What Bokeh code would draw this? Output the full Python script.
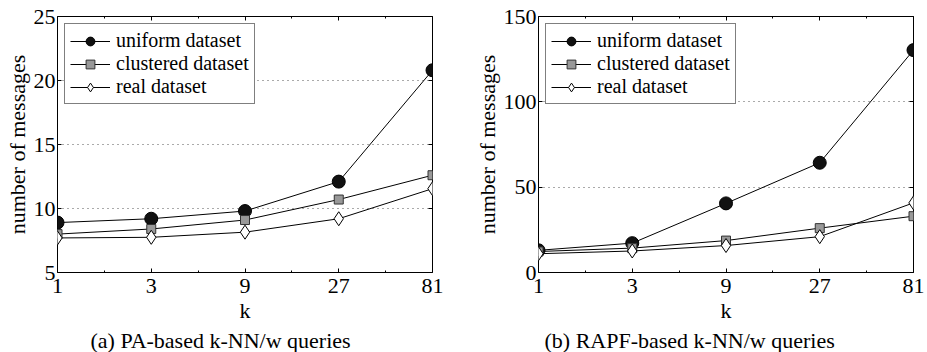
import numpy as np
from bokeh.plotting import figure
from bokeh.models import (Range1d, FixedTicker, LinearAxis, LogAxis, Legend,
                          LegendItem, Title)
from bokeh.layouts import row
from bokeh.embed import file_html
from bokeh.resources import INLINE

# ---------------- data ----------------
k_values = [1, 3, 9, 27, 81]
k_labels = ["1", "3", "9", "27", "81"]

pa_uniform = [8.9, 9.2, 9.8, 12.1, 20.8]
pa_clustered = [8.0, 8.4, 9.1, 10.7, 12.6]
pa_real = [7.7, 7.75, 8.15, 9.2, 11.55]

rapf_uniform = [13.0, 17.2, 40.5, 64.3, 130.3]
rapf_clustered = [12.3, 14.3, 18.7, 26.0, 33.0]
rapf_real = [11.0, 12.6, 15.8, 21.0, 40.8]

pa_yticks = [5, 10, 15, 20, 25]
rapf_yticks = [0, 50, 100, 150]

series_names = ["uniform dataset", "clustered dataset", "real dataset"]

FONT = "Liberation Serif"

minor_k = list(np.sqrt(np.array(k_values[:-1]) * np.array(k_values[1:])))


def style_axis(ax, minor=True):
    ax.major_tick_in = 4
    ax.major_tick_out = 0
    ax.major_tick_line_color = "black"
    if minor:
        ax.minor_tick_in = 2
        ax.minor_tick_out = 0
        ax.minor_tick_line_color = "black"
    else:
        ax.minor_tick_line_color = None
    ax.axis_line_color = None


def blank_labels(ax, ticks):
    ax.major_label_overrides = {t: "" for t in ticks}
    ax.major_label_text_color = None
    ax.major_label_standoff = 0


def make_panel(ys, yticks, caption, width, bl, br, cap_off):
    p = figure(width=width, height=352, x_axis_type="log",
               x_range=Range1d(k_values[0], k_values[-1]),
               y_range=Range1d(yticks[0], yticks[-1]),
               output_backend="svg", toolbar_location=None,
               min_border_left=bl, min_border_right=br,
               min_border_top=16, min_border_bottom=80,
               background_fill_color="white", border_fill_color="white")
    p.outline_line_color = "black"
    p.outline_line_width = 1

    xa = p.xaxis[0]
    xa.ticker = FixedTicker(ticks=k_values, minor_ticks=minor_k)
    xa.major_label_overrides = {k: lab for k, lab in zip(k_values, k_labels)}
    xa.axis_label = "k"
    style_axis(xa)
    xa.major_label_text_font = FONT
    xa.major_label_text_font_size = "22px"
    xa.major_label_text_color = "black"
    xa.major_label_standoff = 6
    xa.axis_label_text_font = FONT
    xa.axis_label_text_font_size = "22px"
    xa.axis_label_text_font_style = "normal"
    xa.axis_label_text_color = "black"
    xa.axis_label_standoff = 2

    ya = p.yaxis[0]
    ya.ticker = FixedTicker(ticks=yticks)
    ya.axis_label = "number of messages"
    style_axis(ya, minor=False)
    ya.major_label_text_font = FONT
    ya.major_label_text_font_size = "22px"
    ya.major_label_text_color = "black"
    ya.major_label_standoff = 2
    ya.axis_label_text_font = FONT
    ya.axis_label_text_font_size = "22px"
    ya.axis_label_text_font_style = "normal"
    ya.axis_label_text_color = "black"
    ya.axis_label_standoff = 1

    top = LogAxis(ticker=FixedTicker(ticks=k_values, minor_ticks=minor_k))
    style_axis(top)
    blank_labels(top, k_values)
    p.add_layout(top, "above")
    right = LinearAxis(ticker=FixedTicker(ticks=yticks))
    style_axis(right, minor=False)
    blank_labels(right, yticks)
    p.add_layout(right, "right")

    p.xgrid.visible = False
    p.ygrid.ticker = FixedTicker(ticks=yticks)
    p.ygrid.grid_line_color = "#555555"
    p.ygrid.grid_line_dash = "1 4"
    p.ygrid.grid_line_width = 1

    markers = [
        dict(marker="circle", size=13, fill_color="#111111", line_color="black"),
        dict(marker="square", size=9, fill_color="#999999", line_color="#333333"),
        dict(marker="diamond", size=14, fill_color="white", line_color="black"),
    ]
    items = []
    for name, vals, mk in zip(series_names, ys, markers):
        rl = p.line(k_values, vals, line_color="black", line_width=1)
        rm = p.scatter(k_values, vals, line_width=1, **mk)
        items.append(LegendItem(label=name, renderers=[rl, rm]))

    legend = Legend(items=items, location="top_left", margin=7, padding=5,
                    spacing=0, label_height=22, glyph_height=22, glyph_width=40,
                    label_standoff=6, border_line_color="black",
                    border_line_width=1, background_fill_color="white",
                    background_fill_alpha=1.0, label_text_font=FONT,
                    label_text_font_size="20px", label_text_color="black")
    p.add_layout(legend, "center")

    p.add_layout(Title(text=caption, align="left", offset=cap_off,
                       text_font=FONT, text_font_size="22px",
                       text_font_style="normal", text_color="black",
                       standoff=0), "below")
    return p


p1 = make_panel([pa_uniform, pa_clustered, pa_real], pa_yticks,
                "(a) PA-based k-NN/w queries", 460, 57, 28, 33)
p2 = make_panel([rapf_uniform, rapf_clustered, rapf_real], rapf_yticks,
                "(b) RAPF-based k-NN/w queries", 467, 78, 14, 6)

layout = row(p1, p2)
open("out.html", "w").write(file_html(layout, INLINE))
